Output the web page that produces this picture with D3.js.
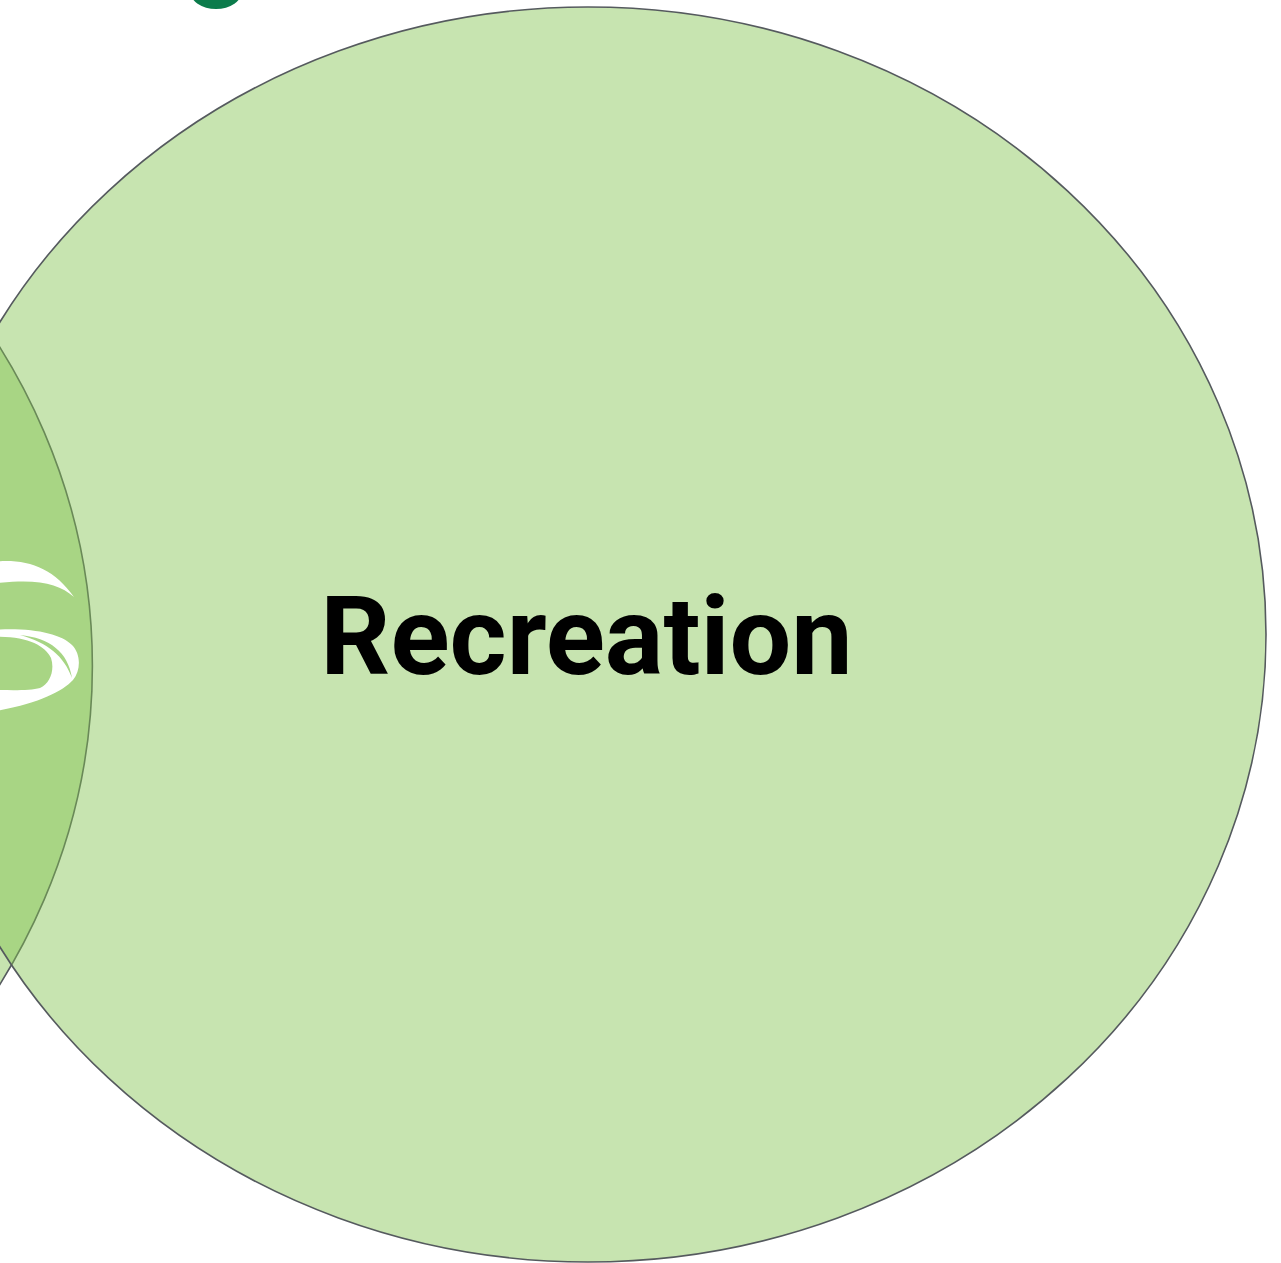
<!DOCTYPE html>
<html>
<head>
<meta charset="utf-8">
<script src="https://cdn.jsdelivr.net/npm/d3@7"></script>
<style>
  html, body { margin: 0; padding: 0; background: #fff; }
  svg { display: block; }
</style>
</head>
<body>
<div id="chart"></div>
<script>
// Venn sets, in layout units (radius of "Recreation" = 1)
const setLabels = ["", "Recreation"];
const setX = [-1.742, 0];
const setY = [0.05, 0];
const setR = [1.011, 1];

const width = 1281, height = 1263;

const svg = d3.select("#chart").append("svg")
  .attr("width", width)
  .attr("height", height)
  .style("background", "#fff");

// layout units -> pixels (the picture is stretched a bit horizontally)
const x = d3.scaleLinear().domain([-1, 1]).range([-90, 1266]);
const y = d3.scaleLinear().domain([-1, 1]).range([7, 1262]);
const kx = (x(1) - x(0)), ky = (y(1) - y(0));

const sets = setLabels.map((label, i) => ({ label, x: setX[i], y: setY[i], r: setR[i] }));

const fillColor = "#82c34f";
const fillOpacity = 0.45;
const overlapColor = "#a7d584";

svg.append("g").selectAll("ellipse")
  .data(sets)
  .enter()
  .append("ellipse")
  .attr("cx", d => x(d.x))
  .attr("cy", d => y(d.y))
  .attr("rx", d => d.r * kx)
  .attr("ry", d => d.r * ky)
  .attr("fill", fillColor)
  .attr("fill-opacity", fillOpacity)
  .attr("stroke", "#555a5e")
  .attr("stroke-width", 1.6);

// white swoosh logo sitting in the overlap
const logo = svg.append("g").attr("fill", "#fff");
logo.append("path")
  .attr("d", "M-10,562 C25,558 52,566 74,597 C58,583 36,578 -10,584 Z");
logo.append("path")
  .attr("fill-rule", "evenodd")
  .attr("d", "M-10,630 C30,627 60,633 72,645 C81,654 81,670 73,680 C62,692 35,705 -10,712 Z " +
             "M-10,637 C25,635 45,645 51,658 C55,670 50,684 40,688 C30,691 10,690 -10,690 Z");
logo.append("path")
  .attr("fill", overlapColor)
  .attr("d", "M20,635 C50,638 68,652 72,678 C64,656 48,643 20,635 Z");

// bit of a dark green logo cut off at the top
svg.append("ellipse")
  .attr("cx", 216)
  .attr("cy", -9)
  .attr("rx", 26)
  .attr("ry", 18)
  .attr("fill", "#0b7b4b");

// set labels
svg.append("g").selectAll("text")
  .data(sets.filter(d => d.label))
  .enter()
  .append("text")
  .attr("x", d => x(d.x) - 1.5)
  .attr("y", d => y(d.y) + 39.5)
  .attr("text-anchor", "middle")
  .attr("font-family", "Roboto, 'Noto Sans', sans-serif")
  .attr("font-weight", "bold")
  .attr("font-size", "109.5px")
  .attr("fill", "#000")
  .text(d => d.label);
</script>
</body>
</html>
